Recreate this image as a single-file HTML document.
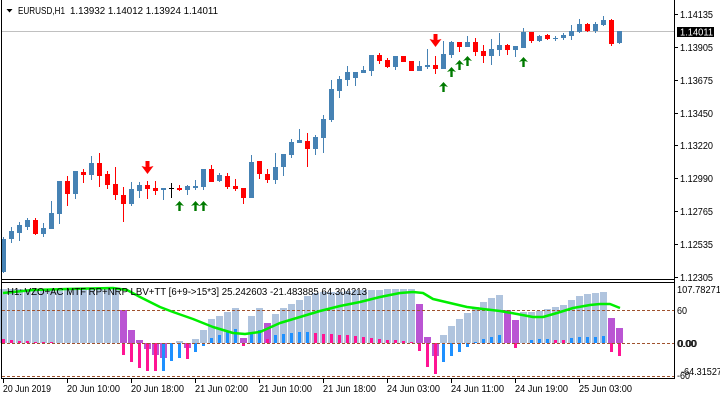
<!DOCTYPE html>
<html><head><meta charset="utf-8"><style>
html,body{margin:0;padding:0;background:#fff;}
svg{display:block;}
text{font-family:"Liberation Sans","DejaVu Sans",sans-serif;font-size:10px;fill:#000;}
</style></head><body>
<svg width="720" height="400" viewBox="0 0 720 400" xmlns="http://www.w3.org/2000/svg" shape-rendering="crispEdges">
<rect x="0" y="0" width="720" height="400" fill="#fff"/>

<!-- current price line -->
<line x1="1" y1="31.5" x2="674" y2="31.5" stroke="#c0c0c0" stroke-width="1"/>

<!-- blue candles -->
<g fill="#4682b4" stroke="none">
<rect x="1" y="239" width="5" height="33"/><rect x="3" y="237" width="1" height="36"/>
<rect x="9" y="231" width="5" height="8"/><rect x="11" y="227" width="1" height="16"/>
<rect x="17" y="225" width="5" height="8"/><rect x="19" y="222" width="1" height="19"/>
<rect x="25" y="220" width="5" height="7"/><rect x="27" y="218" width="1" height="12"/>
<rect x="41" y="228" width="5" height="6"/><rect x="43" y="223" width="1" height="14"/>
<rect x="49" y="213" width="5" height="16"/><rect x="51" y="201" width="1" height="28"/>
<rect x="57" y="181" width="5" height="33"/><rect x="59" y="181" width="1" height="43"/>
<rect x="73" y="171" width="5" height="23"/><rect x="75" y="171" width="1" height="28"/>
<rect x="89" y="163" width="5" height="12"/><rect x="91" y="156" width="1" height="24"/>
<rect x="129" y="189" width="5" height="15"/><rect x="131" y="182" width="1" height="24"/>
<rect x="137" y="185" width="5" height="6"/><rect x="139" y="182" width="1" height="16"/>
<rect x="161" y="188" width="5" height="2"/><rect x="163" y="188" width="1" height="12"/>
<rect x="185" y="186" width="5" height="4"/><rect x="187" y="185" width="1" height="10"/>
<rect x="193" y="186" width="5" height="2"/><rect x="195" y="180" width="1" height="10"/>
<rect x="201" y="169" width="5" height="18"/><rect x="203" y="169" width="1" height="21"/>
<rect x="217" y="175" width="5" height="6"/><rect x="219" y="173" width="1" height="9"/>
<rect x="249" y="162" width="5" height="36"/><rect x="251" y="155" width="1" height="43"/>
<rect x="273" y="167" width="5" height="13"/><rect x="275" y="153" width="1" height="31"/>
<rect x="281" y="154" width="5" height="13"/><rect x="283" y="154" width="1" height="22"/>
<rect x="289" y="142" width="5" height="13"/><rect x="291" y="139" width="1" height="19"/>
<rect x="297" y="140" width="5" height="3"/><rect x="299" y="129" width="1" height="14"/>
<rect x="313" y="137" width="5" height="12"/><rect x="315" y="135" width="1" height="20"/>
<rect x="321" y="119" width="5" height="19"/><rect x="323" y="115" width="1" height="38"/>
<rect x="329" y="89" width="5" height="31"/><rect x="331" y="80" width="1" height="42"/>
<rect x="337" y="79" width="5" height="12"/><rect x="339" y="76" width="1" height="22"/>
<rect x="345" y="72" width="5" height="8"/><rect x="347" y="66" width="1" height="20"/>
<rect x="353" y="72" width="5" height="6"/><rect x="355" y="72" width="1" height="14"/>
<rect x="361" y="70" width="5" height="3"/><rect x="363" y="66" width="1" height="7"/>
<rect x="369" y="55" width="5" height="16"/><rect x="371" y="55" width="1" height="21"/>
<rect x="393" y="56" width="5" height="11"/><rect x="395" y="56" width="1" height="14"/>
<rect x="417" y="66" width="5" height="5"/><rect x="419" y="61" width="1" height="10"/>
<rect x="425" y="65" width="5" height="2"/><rect x="427" y="49" width="1" height="20"/>
<rect x="441" y="54" width="5" height="15"/><rect x="443" y="41" width="1" height="28"/>
<rect x="449" y="42" width="5" height="13"/><rect x="451" y="41" width="1" height="17"/>
<rect x="465" y="42" width="5" height="5"/><rect x="467" y="36" width="1" height="11"/>
<rect x="489" y="49" width="5" height="7"/><rect x="491" y="39" width="1" height="26"/>
<rect x="497" y="45" width="5" height="5"/><rect x="499" y="33" width="1" height="23"/>
<rect x="513" y="46" width="5" height="4"/><rect x="515" y="46" width="1" height="11"/>
<rect x="521" y="32" width="5" height="16"/><rect x="523" y="28" width="1" height="20"/>
<rect x="537" y="36" width="5" height="5"/><rect x="539" y="35" width="1" height="7"/>
<rect x="553" y="38" width="5" height="1"/><rect x="555" y="36" width="1" height="5"/>
<rect x="561" y="35" width="5" height="3"/><rect x="563" y="33" width="1" height="7"/>
<rect x="569" y="31" width="5" height="5"/><rect x="571" y="25" width="1" height="15"/>
<rect x="577" y="24" width="5" height="8"/><rect x="579" y="19" width="1" height="14"/>
<rect x="593" y="24" width="5" height="7"/><rect x="595" y="22" width="1" height="11"/>
<rect x="601" y="20" width="5" height="5"/><rect x="603" y="16" width="1" height="10"/>
<rect x="617" y="31" width="5" height="12"/><rect x="619" y="31" width="1" height="13"/>
</g>

<!-- red candles -->
<g fill="#ff0000" stroke="none">
<rect x="33" y="220" width="5" height="14"/><rect x="35" y="218" width="1" height="17"/>
<rect x="65" y="181" width="5" height="13"/><rect x="67" y="176" width="1" height="30"/>
<rect x="81" y="172" width="5" height="3"/><rect x="83" y="169" width="1" height="14"/>
<rect x="97" y="163" width="5" height="13"/><rect x="99" y="153" width="1" height="34"/>
<rect x="105" y="174" width="5" height="11"/><rect x="107" y="171" width="1" height="18"/>
<rect x="113" y="184" width="5" height="11"/><rect x="115" y="167" width="1" height="33"/>
<rect x="121" y="195" width="5" height="9"/><rect x="123" y="187" width="1" height="35"/>
<rect x="145" y="185" width="5" height="4"/><rect x="147" y="181" width="1" height="18"/>
<rect x="153" y="188" width="5" height="3"/><rect x="155" y="181" width="1" height="14"/>
<rect x="177" y="188" width="5" height="2"/><rect x="179" y="185" width="1" height="6"/>
<rect x="209" y="169" width="5" height="13"/><rect x="211" y="165" width="1" height="17"/>
<rect x="225" y="176" width="5" height="11"/><rect x="227" y="173" width="1" height="16"/>
<rect x="233" y="186" width="5" height="3"/><rect x="235" y="179" width="1" height="12"/>
<rect x="241" y="188" width="5" height="10"/><rect x="243" y="188" width="1" height="16"/>
<rect x="257" y="161" width="5" height="13"/><rect x="259" y="161" width="1" height="18"/>
<rect x="265" y="174" width="5" height="6"/><rect x="267" y="169" width="1" height="14"/>
<rect x="305" y="141" width="5" height="8"/><rect x="307" y="133" width="1" height="34"/>
<rect x="377" y="55" width="5" height="6"/><rect x="379" y="53" width="1" height="11"/>
<rect x="385" y="60" width="5" height="7"/><rect x="387" y="58" width="1" height="10"/>
<rect x="401" y="56" width="5" height="6"/>
<rect x="409" y="61" width="5" height="10"/>
<rect x="433" y="65" width="5" height="4"/><rect x="435" y="56" width="1" height="18"/>
<rect x="457" y="42" width="5" height="5"/><rect x="459" y="42" width="1" height="10"/>
<rect x="473" y="42" width="5" height="10"/><rect x="475" y="38" width="1" height="18"/>
<rect x="481" y="51" width="5" height="5"/><rect x="483" y="45" width="1" height="18"/>
<rect x="505" y="45" width="5" height="5"/><rect x="507" y="44" width="1" height="11"/>
<rect x="529" y="32" width="5" height="9"/><rect x="531" y="32" width="1" height="11"/>
<rect x="545" y="35" width="5" height="4"/><rect x="547" y="34" width="1" height="6"/>
<rect x="585" y="24" width="5" height="7"/><rect x="587" y="23" width="1" height="9"/>
<rect x="609" y="20" width="5" height="24"/><rect x="611" y="19" width="1" height="27"/>
</g>

<!-- black doji -->
<rect x="169" y="188" width="5" height="1" fill="#000"/>
<rect x="171" y="183" width="1" height="15" fill="#000"/>

<!-- arrows -->
<g shape-rendering="auto">
<polygon fill="#ff0000" points="145.5,161 149.5,161 149.5,167 153.5,166 147.5,174 141.5,166 145.5,167"/>
<polygon fill="#ff0000" points="433.5,34 437.5,34 437.5,40 441.5,39 435.5,47 429.5,39 433.5,40"/>
<g fill="#007a00">
<polygon points="179.5,201 184,206 180.7,205 180.7,211 178.3,211 178.3,205 175,206"/>
<polygon points="195.5,201 200,206 196.7,205 196.7,211 194.3,211 194.3,205 191,206"/>
<polygon points="203.5,201 208,206 204.7,205 204.7,211 202.3,211 202.3,205 199,206"/>
<polygon points="443.5,82 448,87 444.7,86 444.7,92 442.3,92 442.3,86 439,87"/>
<polygon points="451.5,67 456,72 452.7,71 452.7,77 450.3,77 450.3,71 447,72"/>
<polygon points="459.5,60 464,65 460.7,64 460.7,70 458.3,70 458.3,64 455,65"/>
<polygon points="467.5,56 472,61 468.7,60 468.7,66 466.3,66 466.3,60 463,61"/>
<polygon points="523.5,57 528,62 524.7,61 524.7,67 522.3,67 522.3,61 519,62"/>
</g>
</g>

<!-- indicator: light steel blue wide bars -->
<g fill="#b0c4de">
<rect x="0" y="289" width="7" height="54"/><rect x="8" y="289" width="7" height="54"/><rect x="16" y="289" width="7" height="54"/>
<rect x="24" y="289" width="7" height="54"/><rect x="32" y="289" width="7" height="54"/><rect x="40" y="289" width="7" height="54"/>
<rect x="48" y="289" width="7" height="54"/><rect x="56" y="289" width="7" height="54"/><rect x="64" y="289" width="7" height="54"/>
<rect x="72" y="289" width="7" height="54"/><rect x="80" y="289" width="7" height="54"/><rect x="88" y="289" width="7" height="54"/>
<rect x="96" y="289" width="7" height="54"/><rect x="104" y="289" width="7" height="54"/><rect x="112" y="289" width="7" height="54"/>
<rect x="176" y="341" width="7" height="2"/>
<rect x="192" y="339" width="7" height="4"/>
<rect x="200" y="330" width="7" height="13"/>
<rect x="208" y="319" width="7" height="24"/>
<rect x="216" y="316" width="7" height="27"/>
<rect x="224" y="312" width="7" height="31"/>
<rect x="232" y="308" width="7" height="35"/>
<rect x="248" y="316" width="7" height="27"/>
<rect x="256" y="308" width="7" height="35"/>
<rect x="272" y="314" width="7" height="29"/>
<rect x="280" y="308" width="7" height="35"/>
<rect x="288" y="304" width="7" height="39"/>
<rect x="296" y="300" width="7" height="43"/>
<rect x="304" y="296" width="7" height="47"/>
<rect x="312" y="293" width="7" height="50"/>
<rect x="320" y="292" width="7" height="51"/>
<rect x="328" y="292" width="7" height="51"/>
<rect x="336" y="292" width="7" height="51"/>
<rect x="344" y="291" width="7" height="52"/>
<rect x="352" y="290" width="7" height="53"/>
<rect x="360" y="290" width="7" height="53"/>
<rect x="368" y="290" width="7" height="53"/>
<rect x="376" y="290" width="7" height="53"/>
<rect x="384" y="289" width="7" height="54"/>
<rect x="392" y="289" width="7" height="54"/>
<rect x="400" y="289" width="7" height="54"/>
<rect x="408" y="289" width="7" height="54"/>
<rect x="440" y="335" width="7" height="8"/>
<rect x="448" y="326" width="7" height="17"/>
<rect x="456" y="319" width="7" height="24"/>
<rect x="464" y="313" width="7" height="30"/>
<rect x="472" y="307" width="7" height="36"/>
<rect x="480" y="302" width="7" height="41"/>
<rect x="488" y="298" width="7" height="45"/>
<rect x="496" y="295" width="7" height="48"/>
<rect x="520" y="312" width="7" height="31"/>
<rect x="528" y="312" width="7" height="31"/>
<rect x="536" y="311" width="7" height="32"/>
<rect x="544" y="309" width="7" height="34"/>
<rect x="552" y="307" width="7" height="36"/>
<rect x="560" y="305" width="7" height="38"/>
<rect x="568" y="300" width="7" height="43"/>
<rect x="576" y="296" width="7" height="47"/>
<rect x="584" y="294" width="7" height="49"/>
<rect x="592" y="293" width="7" height="50"/>
<rect x="600" y="292" width="7" height="51"/>
</g>

<!-- purple bars -->
<g fill="#ba55d3">
<rect x="120" y="310" width="7" height="33"/>
<rect x="128" y="330" width="7" height="13"/>
<rect x="136" y="340" width="7" height="3"/>
<rect x="144" y="343" width="7" height="6"/>
<rect x="152" y="343" width="7" height="12"/>
<rect x="160" y="343" width="7" height="15"/>
<rect x="184" y="343" width="7" height="5"/>
<rect x="240" y="338" width="7" height="5"/>
<rect x="264" y="323" width="7" height="20"/>
<rect x="416" y="304" width="7" height="39"/>
<rect x="424" y="337" width="7" height="6"/>
<rect x="432" y="343" width="7" height="13"/>
<rect x="504" y="310" width="7" height="33"/>
<rect x="512" y="320" width="7" height="23"/>
<rect x="608" y="318" width="7" height="25"/>
<rect x="616" y="328" width="7" height="15"/>
</g>

<!-- pink narrow bars -->
<g fill="#ff1493">
<rect x="2" y="339" width="3" height="4"/>
<rect x="10" y="340" width="3" height="3"/>
<rect x="18" y="341" width="3" height="2"/>
<rect x="26" y="341" width="3" height="2"/>
<rect x="34" y="342" width="3" height="1"/>
<rect x="42" y="342" width="3" height="1"/>
<rect x="50" y="342" width="3" height="1"/>
<rect x="122" y="343" width="3" height="12"/>
<rect x="130" y="343" width="3" height="19"/>
<rect x="138" y="343" width="3" height="25"/>
<rect x="146" y="343" width="3" height="28"/>
<rect x="154" y="343" width="3" height="28"/>
<rect x="186" y="343" width="3" height="16"/>
<rect x="242" y="343" width="3" height="3"/>
<rect x="266" y="339" width="3" height="4"/>
<rect x="314" y="333" width="3" height="10"/>
<rect x="322" y="334" width="3" height="9"/>
<rect x="330" y="334" width="3" height="9"/>
<rect x="338" y="335" width="3" height="8"/>
<rect x="346" y="335" width="3" height="8"/>
<rect x="354" y="336" width="3" height="7"/>
<rect x="362" y="337" width="3" height="6"/>
<rect x="370" y="338" width="3" height="5"/>
<rect x="378" y="339" width="3" height="4"/>
<rect x="386" y="340" width="3" height="3"/>
<rect x="394" y="340" width="3" height="3"/>
<rect x="402" y="341" width="3" height="2"/>
<rect x="410" y="342" width="3" height="1"/>
<rect x="418" y="343" width="3" height="8"/>
<rect x="426" y="343" width="3" height="24"/>
<rect x="434" y="343" width="3" height="31"/>
<rect x="514" y="343" width="3" height="5"/>
<rect x="554" y="340" width="3" height="3"/>
<rect x="562" y="340" width="3" height="3"/>
<rect x="610" y="343" width="3" height="9"/>
<rect x="618" y="343" width="3" height="13"/>
</g>

<!-- blue narrow bars -->
<g fill="#1e90ff">
<rect x="162" y="343" width="3" height="28"/>
<rect x="170" y="343" width="3" height="18"/>
<rect x="178" y="343" width="3" height="15"/>
<rect x="194" y="343" width="3" height="9"/>
<rect x="202" y="343" width="3" height="3"/>
<rect x="210" y="338" width="3" height="5"/>
<rect x="218" y="335" width="3" height="8"/>
<rect x="226" y="332" width="3" height="11"/>
<rect x="234" y="329" width="3" height="14"/>
<rect x="250" y="333" width="3" height="10"/>
<rect x="258" y="330" width="3" height="13"/>
<rect x="274" y="335" width="3" height="8"/>
<rect x="282" y="334" width="3" height="9"/>
<rect x="290" y="333" width="3" height="10"/>
<rect x="298" y="332" width="3" height="11"/>
<rect x="306" y="332" width="3" height="11"/>
<rect x="442" y="343" width="3" height="19"/>
<rect x="450" y="343" width="3" height="13"/>
<rect x="458" y="343" width="3" height="9"/>
<rect x="466" y="343" width="3" height="4"/>
<rect x="474" y="342" width="3" height="1"/>
<rect x="482" y="339" width="3" height="4"/>
<rect x="490" y="337" width="3" height="6"/>
<rect x="498" y="335" width="3" height="8"/>
<rect x="530" y="340" width="3" height="3"/>
<rect x="538" y="339" width="3" height="4"/>
<rect x="546" y="339" width="3" height="4"/>
<rect x="570" y="338" width="3" height="5"/>
<rect x="578" y="337" width="3" height="6"/>
<rect x="586" y="337" width="3" height="6"/>
<rect x="594" y="337" width="3" height="6"/>
<rect x="602" y="336" width="3" height="7"/>
</g>

<!-- dashed levels -->
<g stroke="#a0522d" stroke-width="1" stroke-dasharray="3,2">
<line x1="2" y1="310.5" x2="674" y2="310.5"/>
<line x1="2" y1="343.5" x2="674" y2="343.5"/>
<line x1="2" y1="376.5" x2="674" y2="376.5"/>
</g>

<!-- green line -->
<polyline fill="none" stroke="#00ee00" stroke-width="2.5" shape-rendering="auto" stroke-linejoin="round"
points="3,293 33,290 67,289 113,288 127,290 140,297 160,307 173,312 193,319 213,327 233,333 245,334 260,332 280,323 300,317 320,311 340,306 360,302 380,297 400,293 413,292 423,293 433,299 450,303 467,307 483,309 500,311 517,314 533,317 543,317 557,313 573,308 590,305 600,304 610,304 615,306 620,308"/>

<!-- frame -->
<g stroke="#000" stroke-width="1" fill="none">
<line x1="1.5" y1="0" x2="1.5" y2="379"/>
<line x1="674.5" y1="0" x2="674.5" y2="379"/>
<line x1="1" y1="279.5" x2="675" y2="279.5"/>
<line x1="1" y1="282.5" x2="675" y2="282.5"/>
<line x1="1" y1="378.5" x2="675" y2="378.5"/>
<!-- right ticks -->
<line x1="674" y1="14.5" x2="678" y2="14.5"/>
<line x1="674" y1="47.5" x2="678" y2="47.5"/>
<line x1="674" y1="80.5" x2="678" y2="80.5"/>
<line x1="674" y1="113.5" x2="678" y2="113.5"/>
<line x1="674" y1="145.5" x2="678" y2="145.5"/>
<line x1="674" y1="178.5" x2="678" y2="178.5"/>
<line x1="674" y1="211.5" x2="678" y2="211.5"/>
<line x1="674" y1="244.5" x2="678" y2="244.5"/>
<line x1="674" y1="277.5" x2="678" y2="277.5"/>
<!-- bottom ticks -->
<line x1="3.5" y1="378" x2="3.5" y2="383"/>
<line x1="67.5" y1="378" x2="67.5" y2="383"/>
<line x1="131.5" y1="378" x2="131.5" y2="383"/>
<line x1="195.5" y1="378" x2="195.5" y2="383"/>
<line x1="259.5" y1="378" x2="259.5" y2="383"/>
<line x1="323.5" y1="378" x2="323.5" y2="383"/>
<line x1="387.5" y1="378" x2="387.5" y2="383"/>
<line x1="451.5" y1="378" x2="451.5" y2="383"/>
<line x1="515.5" y1="378" x2="515.5" y2="383"/>
<line x1="579.5" y1="378" x2="579.5" y2="383"/>
</g>

<!-- header -->
<polygon points="6.5,9 12.5,9 9.5,12.5" fill="#000" shape-rendering="auto"/>
<text x="18" y="14" textLength="47" lengthAdjust="spacingAndGlyphs">EURUSD,H1</text>
<text x="70" y="14" textLength="148" lengthAdjust="spacingAndGlyphs">1.13932 1.14012 1.13924 1.14011</text>

<!-- indicator label -->
<text x="7" y="295" textLength="360" lengthAdjust="spacingAndGlyphs">H1: VZO+AC MTF RP+NRP LBV+TT [6+9-&gt;15*3] 25.242603 -21.483885 64.304213</text>

<!-- price axis labels -->
<text x="680" y="18" textLength="33" lengthAdjust="spacingAndGlyphs">1.14135</text>
<rect x="677" y="27" width="37" height="10" fill="#000"/>
<text x="680" y="35.5" textLength="33" lengthAdjust="spacingAndGlyphs" style="fill:#fff">1.14011</text>
<text x="680" y="51" textLength="33" lengthAdjust="spacingAndGlyphs">1.13905</text>
<text x="680" y="84" textLength="33" lengthAdjust="spacingAndGlyphs">1.13675</text>
<text x="680" y="117" textLength="33" lengthAdjust="spacingAndGlyphs">1.13450</text>
<text x="680" y="149" textLength="33" lengthAdjust="spacingAndGlyphs">1.13220</text>
<text x="680" y="182" textLength="33" lengthAdjust="spacingAndGlyphs">1.12990</text>
<text x="680" y="215" textLength="33" lengthAdjust="spacingAndGlyphs">1.12765</text>
<text x="680" y="248" textLength="33" lengthAdjust="spacingAndGlyphs">1.12535</text>
<text x="680" y="281" textLength="33" lengthAdjust="spacingAndGlyphs">1.12305</text>

<!-- indicator axis labels -->
<text x="677" y="293" textLength="44" lengthAdjust="spacingAndGlyphs">107.78271</text>
<text x="677" y="314" textLength="10" lengthAdjust="spacingAndGlyphs">60</text>
<text x="677" y="347" textLength="19" lengthAdjust="spacingAndGlyphs">0.00</text>
<text x="678" y="347" textLength="19" lengthAdjust="spacingAndGlyphs">0.00</text>
<text x="681" y="375" textLength="46" lengthAdjust="spacingAndGlyphs">-64.315270</text>
<text x="677" y="379" textLength="13" lengthAdjust="spacingAndGlyphs">-60</text>

<!-- time axis labels -->
<text x="3" y="392" textLength="48" lengthAdjust="spacingAndGlyphs">20 Jun 2019</text>
<text x="67" y="392" textLength="53" lengthAdjust="spacingAndGlyphs">20 Jun 10:00</text>
<text x="131" y="392" textLength="53" lengthAdjust="spacingAndGlyphs">20 Jun 18:00</text>
<text x="195" y="392" textLength="53" lengthAdjust="spacingAndGlyphs">21 Jun 02:00</text>
<text x="259" y="392" textLength="53" lengthAdjust="spacingAndGlyphs">21 Jun 10:00</text>
<text x="323" y="392" textLength="53" lengthAdjust="spacingAndGlyphs">21 Jun 18:00</text>
<text x="387" y="392" textLength="53" lengthAdjust="spacingAndGlyphs">24 Jun 03:00</text>
<text x="451" y="392" textLength="53" lengthAdjust="spacingAndGlyphs">24 Jun 11:00</text>
<text x="515" y="392" textLength="53" lengthAdjust="spacingAndGlyphs">24 Jun 19:00</text>
<text x="579" y="392" textLength="53" lengthAdjust="spacingAndGlyphs">25 Jun 03:00</text>
</svg>
</body></html>
